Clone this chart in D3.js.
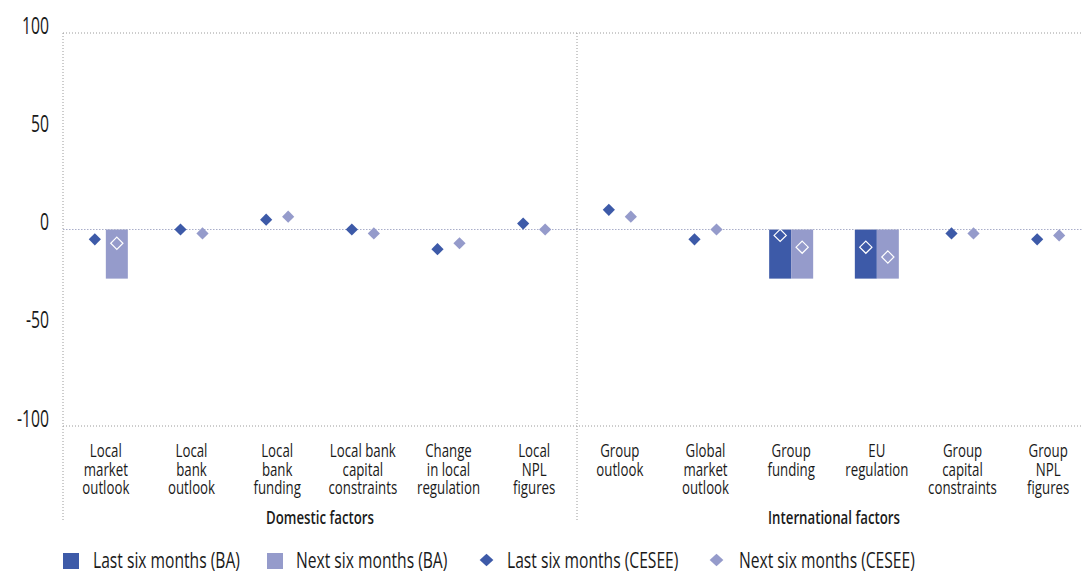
<!DOCTYPE html>
<html>
<head>
<meta charset="utf-8">
<script src="https://cdn.jsdelivr.net/npm/d3@7"></script>
<style>
  html, body { margin: 0; padding: 0; background: #fff; }
  svg { display: block; }
  text { font-family: "Open Sans", "Noto Sans", sans-serif; fill: #1a1a1a; }
</style>
</head>
<body>
<svg id="chart" width="1083" height="574"></svg>
<script>
// Factors, grouped as domestic and international
const categories = [
  ["Local", "market", "outlook"],
  ["Local", "bank", "outlook"],
  ["Local", "bank", "funding"],
  ["Local bank", "capital", "constraints"],
  ["Change", "in local", "regulation"],
  ["Local", "NPL", "figures"],
  ["Group", "outlook"],
  ["Global", "market", "outlook"],
  ["Group", "funding"],
  ["EU", "regulation"],
  ["Group", "capital", "constraints"],
  ["Group", "NPL", "figures"]
];
const groups = ["Domestic factors", "International factors"];
const groupSize = 6;

// Net percentages, bars (BA) and diamonds (CESEE)
const lastBA    = [0, 0, 0, 0, 0, 0, 0, 0, -25, -25, 0, 0];
const nextBA    = [-25, 0, 0, 0, 0, 0, 0, 0, -25, -25, 0, 0];
const lastCESEE = [-5, 0, 5, 0, -10, 3, 10, -5, -3, -9, -2, -5];
const nextCESEE = [-7, -2, 6.5, -2, -7, 0, 6.5, 0, -9, -14, -2, -3];

const yTicks = [100, 50, 0, -50, -100];
const legendLabels = ["Last six months (BA)", "Next six months (BA)", "Last six months (CESEE)", "Next six months (CESEE)"];

const darkBlue = "#3d5aa8";
const lightBlue = "#959bcb";

const svg = d3.select("#chart");
const plot = { left: 63, right: 1091, top: 33, bottom: 426 };

const x = d3.scaleBand()
  .domain(d3.range(categories.length))
  .range([plot.left, plot.right])
  .paddingInner(0).paddingOuter(0);
const y = d3.scaleLinear().domain([-100, 100]).range([plot.bottom, plot.top]);
const bw = x.bandwidth();
const barW = 22;

// Narrow text: measure a sample string and squeeze horizontally to the wanted width
function squeeze(sample, size, weight, width) {
  const t = svg.append("text").attr("font-size", size).attr("font-weight", weight).text(sample);
  const w = t.node().getComputedTextLength();
  t.remove();
  return width / w;
}
const kTick = squeeze("100", 24, 400, 27);
const kCat = squeeze("Local bank", 18, 400, 66);
const kGroup = squeeze("Domestic factors", 18, 600, 108);
const kLegend = squeeze("Last six months (BA)", 22, 400, 147);

function narrowText(parent, xv, yv, k, size, weight, anchor) {
  return parent.append("g")
    .attr("transform", `translate(${xv},${yv}) scale(${k},1)`)
    .append("text")
    .attr("font-size", size).attr("font-weight", weight).attr("text-anchor", anchor);
}

// Gridlines at the extremes
[100, -100].forEach(v => {
  svg.append("line")
    .attr("x1", plot.left).attr("x2", plot.right)
    .attr("y1", y(v)).attr("y2", y(v))
    .attr("stroke", "#9a9a9a").attr("stroke-width", 1).attr("stroke-dasharray", "1,2");
});

// Group separators and left frame
const sepBottom = 522;
[plot.left, x(groupSize)].forEach(xv => {
  svg.append("line")
    .attr("x1", xv).attr("x2", xv)
    .attr("y1", plot.top).attr("y2", sepBottom)
    .attr("stroke", "#9a9a9a").attr("stroke-width", 1).attr("stroke-dasharray", "1,2");
});

// Bars
const barData = [];
categories.forEach((c, i) => {
  barData.push({ i, v: lastBA[i], off: -barW, color: darkBlue });
  barData.push({ i, v: nextBA[i], off: 0, color: lightBlue });
});
svg.append("g").selectAll("rect")
  .data(barData.filter(d => d.v !== 0))
  .join("rect")
  .attr("x", d => x(d.i) + bw / 2 + d.off)
  .attr("width", barW)
  .attr("y", d => Math.min(y(0), y(d.v)))
  .attr("height", d => Math.abs(y(d.v) - y(0)))
  .attr("fill", d => d.color);

// Zero line
svg.append("line")
  .attr("x1", plot.left).attr("x2", plot.right)
  .attr("y1", y(0)).attr("y2", y(0))
  .attr("stroke", "#a9aec9").attr("stroke-width", 1.2).attr("stroke-dasharray", "1.5,1.5");

// Diamonds: hollow white outline when sitting on a bar
const diamond = d3.symbol().type(d3.symbolDiamond2).size(95);
const dots = [];
categories.forEach((c, i) => {
  dots.push({ i, v: lastCESEE[i], off: -barW / 2, color: darkBlue, onBar: lastBA[i] !== 0 });
  dots.push({ i, v: nextCESEE[i], off: barW / 2, color: lightBlue, onBar: nextBA[i] !== 0 });
});
svg.append("g").selectAll("path")
  .data(dots)
  .join("path")
  .attr("d", diamond)
  .attr("transform", d => `translate(${x(d.i) + bw / 2 + d.off},${y(d.v)})`)
  .attr("fill", d => d.onBar ? "none" : d.color)
  .attr("stroke", d => d.onBar ? "#ffffff" : "none")
  .attr("stroke-width", 1.2);

// Y axis labels
const yAxis = d3.axisLeft(y).tickValues(yTicks).tickSize(0).tickPadding(0)
  .tickFormat(d => d < 0 ? "-" + Math.abs(d) : String(d));
const ya = svg.append("g").attr("transform", "translate(49,0)").call(yAxis);
ya.select(".domain").remove();
ya.selectAll(".tick text")
  .attr("dy", 0).attr("x", 0)
  .attr("font-size", 24).attr("fill", "#1a1a1a")
  .attr("transform", `scale(${kTick},1)`)
  .style("font-family", '"Open Sans", "Noto Sans", sans-serif');

// Category labels
const catG = svg.append("g");
categories.forEach((lines, i) => {
  const t = narrowText(catG, x(i) + bw / 2, 457, kCat, 18, 400, "middle");
  lines.forEach((ln, k) => {
    t.append("tspan").attr("x", 0).attr("dy", k === 0 ? 0 : 18.5).text(ln);
  });
});

// Group labels
groups.forEach((g, gi) => {
  const cx = (x(gi * groupSize) + x(gi * groupSize + groupSize - 1) + bw) / 2;
  narrowText(svg, cx, 524, kGroup, 18, 600, "middle").text(g);
});

// Legend
const legendItems = [
  { label: legendLabels[0], color: darkBlue, shape: "square", x: 63, tx: 93 },
  { label: legendLabels[1], color: lightBlue, shape: "square", x: 267, tx: 296 },
  { label: legendLabels[2], color: darkBlue, shape: "diamond", x: 478, tx: 507 },
  { label: legendLabels[3], color: lightBlue, shape: "diamond", x: 708, tx: 739 }
];
const lg = svg.append("g");
legendItems.forEach(it => {
  if (it.shape === "square") {
    lg.append("rect").attr("x", it.x).attr("y", 553).attr("width", 16).attr("height", 16).attr("fill", it.color);
  } else {
    lg.append("path").attr("d", d3.symbol().type(d3.symbolDiamond2).size(120))
      .attr("transform", `translate(${it.x + 8.5},560) scale(1,0.9)`).attr("fill", it.color);
  }
  narrowText(lg, it.tx, 568, kLegend, 22, 400, "start").text(it.label);
});
</script>
</body>
</html>
